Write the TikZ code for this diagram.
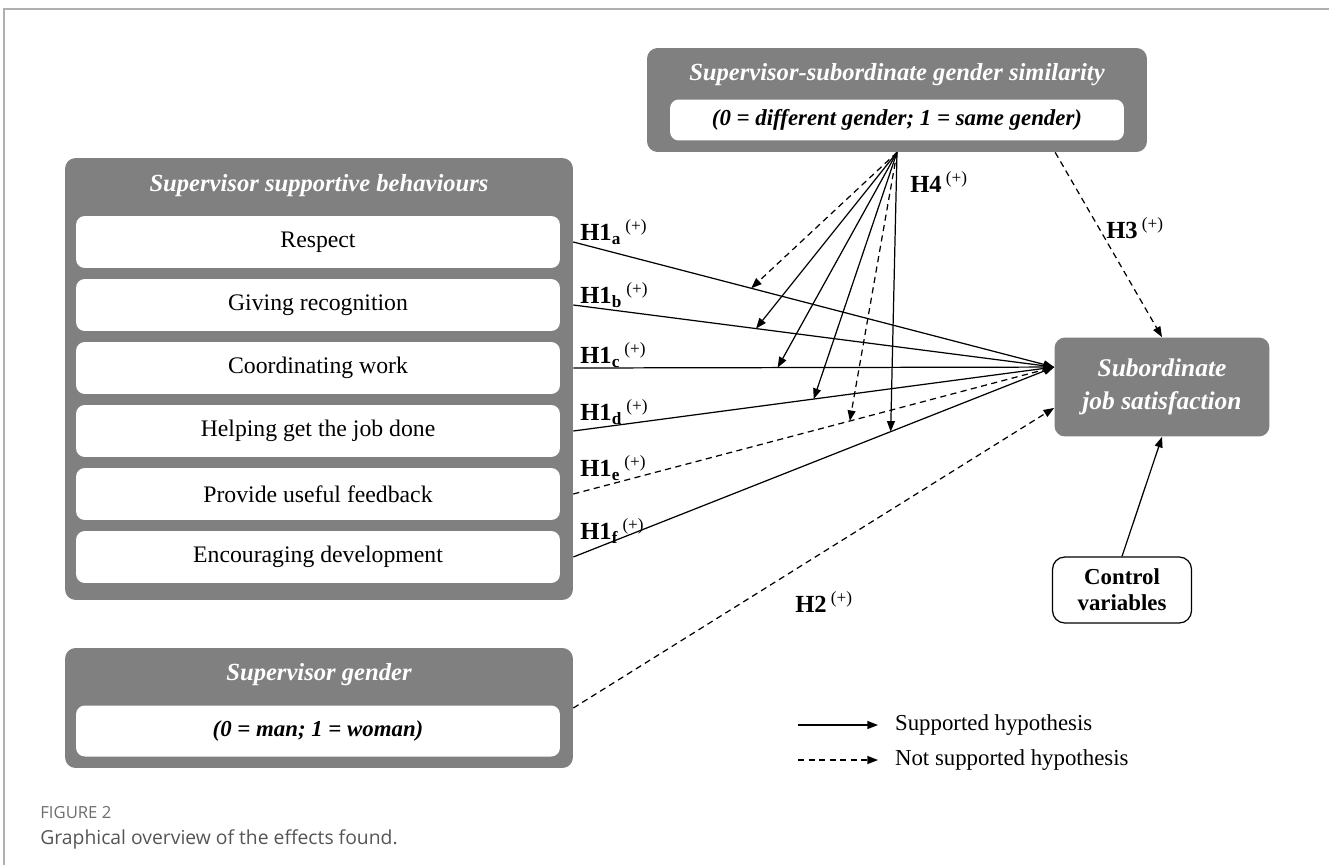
\documentclass[tikz,border=0pt]{standalone}
\usepackage{fontspec}
\setmainfont{Liberation Serif}
\newfontfamily\capfont{Open Sans}
\usepackage{tikz}
\definecolor{boxgray}{RGB}{128, 128, 128}
\definecolor{framegray}{RGB}{175, 175, 175}
\definecolor{capgray}{RGB}{110, 110, 110}
\definecolor{captext}{RGB}{85, 85, 85}
\usetikzlibrary{arrows.meta, positioning, calc}

\begin{document}
\begin{tikzpicture}[x=0.02cm, y=-0.02cm,
    panel/.style={fill=boxgray, rounded corners=6pt, inner sep=0pt},
    paneltitle/.style={text=white, inner sep=0pt, font=\fontsize{14}{16}\selectfont\bfseries\itshape},
    item/.style={fill=white, rounded corners=5pt, minimum width=9.68cm, minimum height=1.04cm,
                 inner sep=0pt, font=\fontsize{13.5}{15}\selectfont},
    coding/.style={fill=white, rounded corners=5pt, inner sep=0pt, font=\fontsize{13}{15}\selectfont\bfseries\itshape},
    hyp/.style={anchor=west, inner sep=0pt, font=\fontsize{14}{16}\selectfont\bfseries},
    link/.style={-{Triangle[length=6pt,width=4.5pt]}, line width=0.7pt},
    nolink/.style={link, dash pattern=on 3.5pt off 2.5pt},
    legtext/.style={anchor=west, inner xsep=9.5pt, inner ysep=0pt, font=\fontsize{13}{15}\selectfont}
]
    \useasboundingbox (0,0) rectangle (1329,865);
    \draw[framegray, line width=0.8pt] (4,865) -- (4,9) -- (1329,9);

    % moderator
    \node[panel, minimum width=10cm, minimum height=2.08cm] (sim) at (897,100) {};
    \node[paneltitle] (simtitle) at (897,75) {Supervisor-subordinate gender similarity};
    \node[coding, minimum width=9.08cm, minimum height=0.82cm] (simcode) at (897,120)
        {(0 = different gender; 1 = same gender)};

    % predictors
    \node[panel, minimum width=10.16cm, minimum height=8.84cm] (behav) at (319,379) {};
    \node[paneltitle] (behavtitle) at (319,186) {Supervisor supportive behaviours};
    \node[item] (resp) at (318,242) {Respect};
    \node[item] (recog) at (318,305) {Giving recognition};
    \node[item] (coord) at (318,368) {Coordinating work};
    \node[item] (help) at (318,431) {Helping get the job done};
    \node[item] (feed) at (318,494) {Provide useful feedback};
    \node[item] (devel) at (318,557) {Encouraging development};

    \node[panel, minimum width=10.16cm, minimum height=2.4cm] (gender) at (319,708) {};
    \node[paneltitle] (gendertitle) at (319,675) {Supervisor gender};
    \node[coding, minimum width=9.68cm, minimum height=1.02cm] (gendercode) at (318,731)
        {(0 = man; 1 = woman)};

    % outcome
    \node[panel, minimum width=4.3cm, minimum height=1.98cm, align=center, text=white,
          font=\fontsize{14.5}{19}\selectfont\bfseries\itshape] (sat) at (1162,387)
        {Subordinate\\job satisfaction};
    \node[draw, fill=white, rounded corners=7pt, line width=0.7pt, minimum width=2.78cm,
          minimum height=1.32cm, align=center, inner sep=0pt,
          font=\fontsize{13}{15}\selectfont\bfseries] (ctrl) at (1122,590) {Control\\variables};

    \coordinate (hub) at ($(sat.north west)!0.3!(sat.south west)$);
    \coordinate (h2end) at ($(sat.north west)!0.71!(sat.south west)$);
    \coordinate (h3start) at ($(sim.south west)!0.816!(sim.south east)$);

    % H1 paths
    \draw[link] (resp.east -| behav.east) -- coordinate[pos=0.37] (ma) (hub);
    \draw[link] (recog.east -| behav.east) -- coordinate[pos=0.38] (mb) (hub);
    \draw[link] (coord.east -| behav.east) -- coordinate[pos=0.425] (mc) (hub);
    \draw[link] (help.east -| behav.east) -- coordinate[pos=0.5] (md) (hub);
    \draw[nolink] (feed.east -| behav.east) -- coordinate[pos=0.575] (me) (hub);
    \draw[link] (devel.east -| behav.east) -- coordinate[pos=0.66] (mf) (hub);

    % H4 moderation
    \draw[nolink] (sim.south) -- (ma);
    \draw[link] (sim.south) -- (mb);
    \draw[link] (sim.south) -- (mc);
    \draw[link] (sim.south) -- (md);
    \draw[nolink] (sim.south) -- (me);
    \draw[link] (sim.south) -- (mf);

    % H2, H3, controls
    \draw[nolink] (gender.east) -- (h2end);
    \draw[nolink] (h3start) -- (sat.north);
    \draw[link] (ctrl.north) -- (sat.south);

    \node[hyp] (lh1a) at (580,232) {H1\textsubscript{a}\,\textsuperscript{\mdseries(+)}};
    \node[hyp] (lh1b) at (580,295) {H1\textsubscript{b}\,\textsuperscript{\mdseries(+)}};
    \node[hyp] (lh1c) at (580,355) {H1\textsubscript{c}\,\textsuperscript{\mdseries(+)}};
    \node[hyp] (lh1d) at (580,412) {H1\textsubscript{d}\,\textsuperscript{\mdseries(+)}};
    \node[hyp] (lh1e) at (580,468) {H1\textsubscript{e}\,\textsuperscript{\mdseries(+)}};
    \node[hyp] (lh1f) at (580,531) {H1\textsubscript{f}\,\textsuperscript{\mdseries(+)}};
    \node[hyp] (lh2) at (795,602) {H2\,\textsuperscript{\mdseries(+)}};
    \node[hyp] (lh3) at (1106,228) {H3\,\textsuperscript{\mdseries(+)}};
    \node[hyp] (lh4) at (910,182) {H4\,\textsuperscript{\mdseries(+)}};

    % legend
    \coordinate (legs) at (798,725);
    \coordinate (legn) at (798,760);
    \node[legtext] (legsup) at (878,725) {Supported hypothesis};
    \node[legtext] (legnot) at (878,760) {Not supported hypothesis};
    \draw[link] (legs) -- (legsup.west);
    \draw[nolink] (legn) -- (legnot.west);

    % caption
    \node[anchor=west, inner sep=0pt, text=capgray, font=\capfont\fontsize{9.5}{11}\selectfont] (figno)
        at (40,813) {FIGURE 2};
    \node[anchor=west, inner sep=0pt, text=captext, font=\capfont\fontsize{11}{13}\selectfont] (figcap)
        at (40,839) {Graphical overview of the effects found.};
\end{tikzpicture}
\end{document}
